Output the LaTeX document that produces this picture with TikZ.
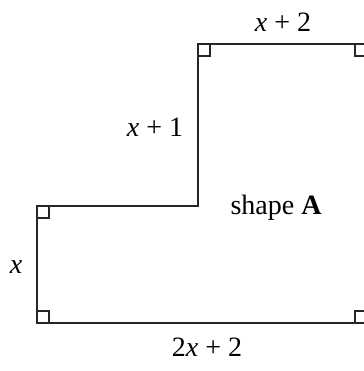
\documentclass[tikz,border=0pt]{standalone}
\usepackage{fontspec}
\setmainfont{Liberation Serif}
\usetikzlibrary{positioning}
\tikzset{
  outline/.style={line width=2.1pt, draw=black!85, line join=miter},
  rtmark/.style={line width=1.5pt, draw=black!85},
  lbl/.style={font=\fontsize{28}{32}\selectfont, inner sep=0pt}
}

\begin{document}
\begin{tikzpicture}[x=1pt,y=-1pt]
  \useasboundingbox (0,0) rectangle (363,371);
  \coordinate (bl) at (37,323);
  \coordinate (ml) at (37,206);
  \coordinate (in) at (198,206);
  \coordinate (tl) at (198,44);
  \coordinate (tr) at (367,44);
  \coordinate (br) at (367,323);
  \draw[outline] (bl) -- (ml) -- (in) -- (tl) -- (tr) -- (br) -- cycle;
  \draw[rtmark] (bl) rectangle ++(12,-12);
  \draw[rtmark] (ml) rectangle ++(12,12);
  \draw[rtmark] (tl) rectangle ++(12,12);
  \draw[rtmark] (tr) rectangle ++(-12,12);
  \draw[rtmark] (br) rectangle ++(-12,-12);
  \node[lbl] (top) at (283,22) {\textit{x} + 2};
  \node[lbl] (mid) at (155,127) {\textit{x} + 1};
  \node[lbl] (name) at (276,208) {shape \textbf{A}};
  \node[lbl] (left) at (16,267) {\textit{x}};
  \node[lbl] (bot) at (207,347) {2\textit{x} + 2};
\end{tikzpicture}
\end{document}
